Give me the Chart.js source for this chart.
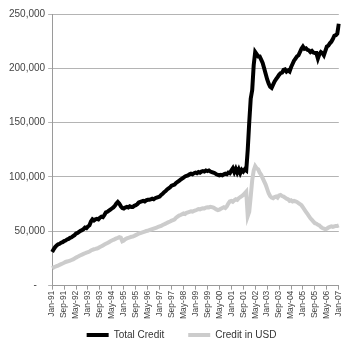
<!DOCTYPE html>
<html>
<head>
<meta charset="utf-8">
<script src="https://cdn.jsdelivr.net/npm/chart.js@4/dist/chart.umd.min.js"></script>
<style>
  html, body { margin: 0; padding: 0; background: #fff; }
  #wrap { width: 350px; height: 350px; }
</style>
</head>
<body>
<div id="wrap"><canvas id="myChart" width="350" height="350"></canvas></div>
<script>
// monthly, Jan-91 .. Jan-07
var years = ['91','92','93','94','95','96','97','98','99','00','01','02','03','04','05','06','07'];
var monthNames = ['Jan','Feb','Mar','Apr','May','Jun','Jul','Aug','Sep','Oct','Nov','Dec'];

// labels shown on the x axis
var tickLabels = ['Jan-91','Sep-91','May-92','Jan-93','Sep-93','May-94','Jan-95','Sep-95','May-96',
    'Jan-97','Sep-97','May-98','Jan-99','Sep-99','May-00','Jan-01','Sep-01','May-02','Jan-03',
    'Sep-03','May-04','Jan-05','Sep-05','May-06','Jan-07'];

var yTicks = [0, 50000, 100000, 150000, 200000, 250000];

var totalCredit = [
    31000, 33500, 35500, 37000, 38000, 38500, 39500, 40000, 41000, 41500, 42500, 43000,   // 1991
    44000, 44500, 45500, 46500, 48000, 48500, 49500, 50500, 51000, 52000, 53500, 53000,   // 1992
    54500, 55500, 59000, 61000, 60000, 61000, 61500, 61000, 62500, 63500, 63000, 65000,   // 1993
    67500, 68000, 69000, 70000, 71000, 72000, 73500, 75500, 77000, 75500, 73000, 71500,   // 1994
    71000, 72000, 72500, 72000, 73000, 72500, 72500, 73500, 74000, 75000, 76500, 77000,   // 1995
    77500, 78000, 77500, 78500, 79000, 79000, 79500, 80000, 79500, 80500, 81000, 81500,   // 1996
    82000, 83500, 84500, 86000, 87000, 88500, 89500, 90500, 92000, 92500, 93000, 94500,   // 1997
    95500, 96500, 97500, 98500, 99500, 100500, 101000, 101500, 102500, 103000, 102500, 103500, // 1998
    104000, 103500, 104500, 104000, 105000, 105500, 105000, 106000, 105500, 106000, 105000, 104500, // 1999
    104000, 103500, 102500, 102000, 101500, 102000, 101500, 102500, 103000, 102500, 104000, 103500, // 2000
    106000, 108000, 104500, 107500, 104000, 107000, 103500, 106500, 105000, 107000, 106000, 125000, // 2001
    150000, 172000, 180000, 203000, 215000, 213000, 211000, 211000, 208000, 205000, 200000, 195000, // 2002
    190000, 186000, 183000, 182000, 185000, 188000, 190000, 192000, 194000, 195500, 196000, 198500, // 2003
    199000, 197000, 198000, 197000, 201000, 204000, 207000, 209000, 211000, 212000, 215000, 218000, // 2004
    220000, 218000, 218500, 217000, 216500, 215000, 216000, 214500, 214000, 214000, 209000, 213000, // 2005
    215000, 214000, 212000, 216000, 220000, 221000, 223000, 224500, 227000, 230000, 230500, 232000, // 2006
    241000                                                                                       // 2007
];

var creditUSD = [
    16000, 16800, 17400, 18000, 18500, 19200, 19800, 20400, 21000, 21800, 22200, 22600,   // 1991
    23000, 23600, 24200, 25000, 25800, 26500, 27300, 28000, 28600, 29200, 29800, 30400,   // 1992
    30800, 31500, 32300, 33000, 33500, 33800, 34200, 34800, 35500, 36200, 37000, 37800,   // 1993
    38500, 39200, 40000, 40800, 41500, 42200, 42800, 43500, 44000, 44600, 44200, 40800,   // 1994
    41500, 42800, 43500, 44000, 44500, 45000, 45200, 45800, 46500, 47200, 47800, 48300,   // 1995
    48800, 49300, 49800, 50300, 50500, 51000, 51500, 52000, 52500, 53000, 53500, 54000,   // 1996
    54500, 55000, 55800, 56500, 57000, 57800, 58500, 59000, 59800, 60200, 61000, 62500,   // 1997
    63500, 64500, 65000, 65800, 66500, 66000, 67000, 67500, 68000, 68500, 68200, 68800,   // 1998
    69200, 69800, 70500, 70200, 70800, 71200, 71000, 71800, 72200, 72000, 72600, 72300,   // 1999
    71800, 71000, 70200, 69500, 70000, 70800, 71500, 72200, 71500, 73000, 75500, 77500,   // 2000
    78000, 77200, 78500, 79500, 79000, 80500, 81500, 82500, 83500, 85000, 86500, 64000,   // 2001
    68000, 82000, 97000, 106000, 110000, 108000, 107000, 104000, 102000, 99000, 96000, 93000, // 2002
    89000, 85000, 82500, 81000, 80500, 81500, 82000, 81000, 83000, 83500, 82500, 82000,   // 2003
    81000, 80000, 79500, 78000, 78500, 77500, 78000, 77500, 77000, 76000, 75000, 74000,   // 2004
    72000, 70000, 68000, 66000, 64000, 62000, 60500, 59000, 57500, 57000, 56000, 55500,   // 2005
    54000, 53000, 52500, 52000, 52500, 53500, 54000, 54500, 54000, 54500, 55000, 55000,   // 2006
    55500                                                                                  // 2007
];

var labels = [];
years.forEach(function (y) {
    monthNames.forEach(function (m) {
        if (labels.length < totalCredit.length) labels.push(m + '-' + y);
    });
});

var font = "'Liberation Sans', Arial, sans-serif";

// legend gets little room, then is drawn a bit higher and to the right
var legendShift = {
    id: 'legendShift',
    afterLayout: function (chart) {
        var lg = chart.legend;
        lg.left += 6;
        lg.right += 6;
        lg.top -= 14;   // keep bottom so the legend clip box still holds the text
    }
};

var ctx = document.getElementById('myChart').getContext('2d');

new Chart(ctx, {
    type: 'line',
    data: {
        labels: labels,
        datasets: [{
            label: 'Total Credit',
            data: totalCredit,
            borderColor: '#000000',
            backgroundColor: '#000000',
            borderWidth: 4,
            pointRadius: 0,
            tension: 0
        }, {
            label: 'Credit in USD',
            data: creditUSD,
            borderColor: '#cccccc',
            backgroundColor: '#cccccc',
            borderWidth: 4,
            pointRadius: 0,
            tension: 0
        }]
    },
    options: {
        responsive: false,
        animation: false,
        layout: { padding: { left: 6, right: 5, top: 14, bottom: 0 } },
        plugins: {
            legend: {
                position: 'bottom',
                maxHeight: 30,
                labels: {
                    usePointStyle: true,
                    pointStyle: 'line',
                    pointStyleWidth: 22,
                    boxHeight: 10,
                    padding: 24,
                    color: '#333',
                    font: { family: font, size: 10 }
                }
            },
            tooltip: { enabled: false }
        },
        scales: {
            x: {
                grid: {
                    drawOnChartArea: false,
                    drawTicks: true,
                    tickLength: 4,
                    color: '#9a9a9a'
                },
                border: { color: '#9a9a9a' },
                ticks: {
                    autoSkip: false,
                    maxRotation: 90,
                    minRotation: 90,
                    padding: 1,
                    color: '#444',
                    font: { family: font, size: 8.5 },
                    callback: function (v, i) {
                        return tickLabels.indexOf(labels[i]) >= 0 ? labels[i] : null;
                    }
                }
            },
            y: {
                min: 0,
                max: 250000,
                afterBuildTicks: function (axis) {
                    axis.ticks = yTicks.map(function (v) { return { value: v }; });
                },
                grid: {
                    color: '#b4b4b4',
                    tickLength: 4
                },
                border: { color: '#9a9a9a' },
                ticks: {
                    padding: 3,
                    color: '#444',
                    font: { family: font, size: 10 },
                    callback: function (v) {
                        return v === 0 ? '-   ' : v.toLocaleString('en-US');
                    }
                }
            }
        }
    },
    plugins: [legendShift]
});
</script>
</body>
</html>
